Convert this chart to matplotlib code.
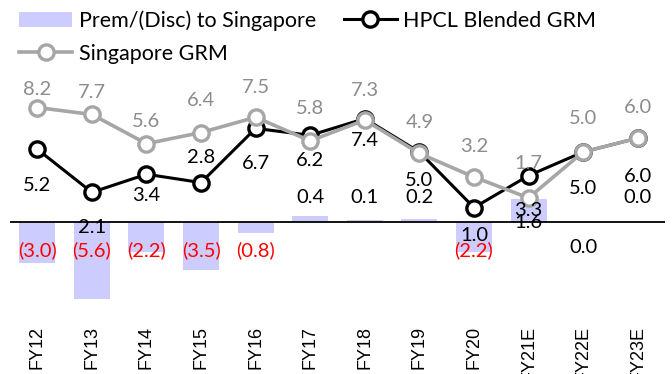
import matplotlib
matplotlib.use("Agg")
import matplotlib.pyplot as plt
from matplotlib.patches import Patch
from matplotlib.lines import Line2D
import numpy as np

years = ["FY12", "FY13", "FY14", "FY15", "FY16", "FY17",
         "FY18", "FY19", "FY20", "FY21E", "FY22E", "FY23E"]
prem_disc = [-3.0, -5.6, -2.2, -3.5, -0.8, 0.4, 0.1, 0.2, -2.2, 1.6, 0.0, 0.0]
hpcl_grm = [5.2, 2.1, 3.4, 2.8, 6.7, 6.2, 7.4, 5.0, 1.0, 3.3, 5.0, 6.0]
sing_grm = [8.2, 7.7, 5.6, 6.4, 7.5, 5.8, 7.3, 4.9, 3.2, 1.7, 5.0, 6.0]

# label placement (pixels relative to the point, image y goes down)
hpcl_off = [36, 35, 21, -25, 35, 25, 22, 29, 28, 35, 37, 38]
sing_off = [-18, -22, -22, -32, -30, -32, -30, -31, -31, -34, -33, -31]
bar_lab_y = [-2.05, -2.05, -2.05, -2.05, -2.05, 1.75, 1.75, 1.75, -2.05, -0.1, -1.9, 1.75]

BAR_C = "#CCCCFF"
GREY_LINE = "#A6A6A6"
GREY_TXT = "#8C8C8C"
LAB_FONT = "Lato"
FS = 14.5

fig = plt.figure(figsize=(6.72, 3.74), dpi=100)
ax = fig.add_axes([10 / 672, 1 - 315 / 374, 655 / 672, 315 / 374])
x = np.arange(len(years))

ax.bar(x, prem_disc, width=0.66, color=BAR_C, zorder=1)
ax.axhline(0, color="black", lw=1.3, zorder=2)

ax.plot(x, hpcl_grm, color="black", lw=2.2, marker="o", ms=11,
        mfc="white", mec="black", mew=2.4, zorder=3)
ax.plot(x, sing_grm, color=GREY_LINE, lw=2.6, marker="o", ms=11,
        mfc="white", mec=GREY_LINE, mew=2.4, zorder=4)

for i in x:
    ax.annotate(f"{hpcl_grm[i]:.1f}", (i, hpcl_grm[i]), xytext=(0, -hpcl_off[i]),
                textcoords="offset pixels", ha="center", va="center",
                fontsize=FS, family=LAB_FONT, color="black", zorder=6)
    ax.annotate(f"{sing_grm[i]:.1f}", (i, sing_grm[i]), xytext=(0, -sing_off[i]),
                textcoords="offset pixels", ha="center", va="center",
                fontsize=FS, family=LAB_FONT, color=GREY_TXT, zorder=6)
    v = prem_disc[i]
    if v < 0:
        txt, col = f"({abs(v):.1f})", "red"
    else:
        txt, col = f"{v:.1f}", "black"
    ax.text(i, bar_lab_y[i], txt, ha="center", va="center", fontsize=FS,
            family=LAB_FONT, color=col, zorder=5)

ax.set_xlim(-0.5, len(years) - 0.5)
ax.set_ylim(-(315 - 221.5) / 13.9, 221.5 / 13.9)
ax.set_xticks(x)
ax.set_xticklabels(years, rotation=90, fontsize=13, family="Liberation Sans")
ax.tick_params(axis="x", length=0, pad=8)
ax.set_yticks([])
for s in ax.spines.values():
    s.set_visible(False)

handles = [
    Patch(facecolor=BAR_C, edgecolor="none"),
    Line2D([], [], color=GREY_LINE, lw=2.6, marker="o", ms=11,
           mfc="white", mec=GREY_LINE, mew=2.4),
    Line2D([], [], color="black", lw=2.2, marker="o", ms=11,
           mfc="white", mec="black", mew=2.4),
]
labels = ["Prem/(Disc) to Singapore", "Singapore GRM", "HPCL Blended GRM"]
fig.legend(handles, labels, ncol=2, loc="upper left",
           bbox_to_anchor=(0.0, 1.025), frameon=False,
           prop={"family": LAB_FONT, "size": 15.5}, handlelength=2.45,
           handletextpad=0.3, columnspacing=1.3, labelspacing=0.6)

fig.savefig("out.png", dpi=100)
